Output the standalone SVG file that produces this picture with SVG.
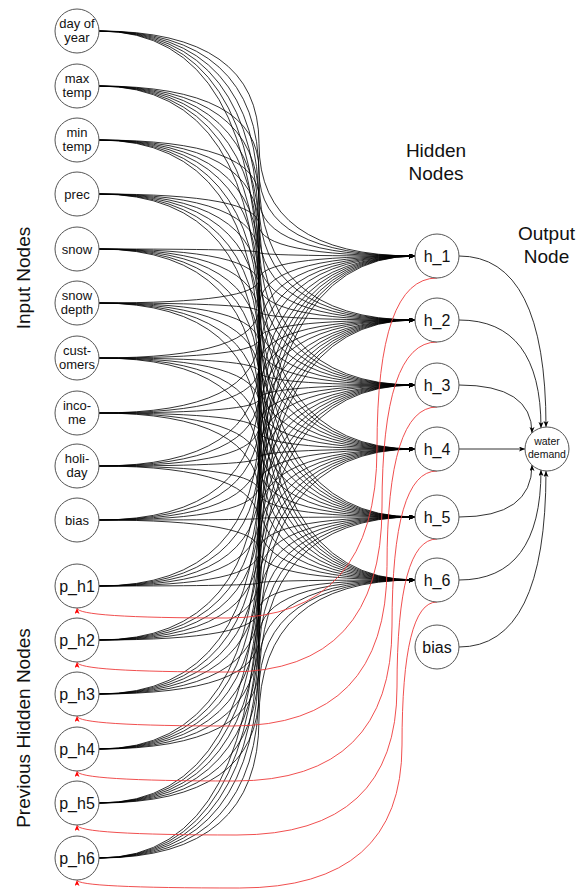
<svg xmlns="http://www.w3.org/2000/svg" width="576" height="889" viewBox="0 0 576 889">
<style>
.n{fill:#fff;stroke:#555;stroke-width:1}
.t{font-family:"Liberation Sans",Arial,sans-serif;fill:#111;text-anchor:middle}
.s{font-size:13px}
.m{font-size:16px}
.w{font-size:10.5px}
.L{font-family:"Liberation Sans",Arial,sans-serif;fill:#111;font-size:19px;text-anchor:middle}
.k path{fill:none;stroke:#000;stroke-width:0.8;marker-end:url(#ab)}
.r path{fill:none;stroke:#ee3b3b;stroke-width:0.9;marker-end:url(#ar)}
.o path{fill:none;stroke:#333;stroke-width:1;marker-end:url(#ab)}
</style>
<defs>
<marker id="ab" markerWidth="7" markerHeight="6" refX="6" refY="2.5" orient="auto" markerUnits="userSpaceOnUse"><path d="M0,0 L6,2.5 L0,5 L1.5,2.5 z" fill="#000"/></marker>
<marker id="ar" markerWidth="7" markerHeight="6" refX="6" refY="2.5" orient="auto" markerUnits="userSpaceOnUse"><path d="M0,0 L6,2.5 L0,5 L1.5,2.5 z" fill="#f00"/></marker>
</defs>
<g id="connectors">
<g class="k">
<path d="M99 31Q259 31 259 143.5Q259 256 415 256"/>
<path d="M99 31Q259 31 259 175.5Q259 320 415 320"/>
<path d="M99 31Q259 31 259 208Q259 385 415 385"/>
<path d="M99 31Q259 31 259 240Q259 449 415 449"/>
<path d="M99 31Q259 31 259 274Q259 517 415 517"/>
<path d="M99 31Q259 31 259 305.5Q259 580 415 580"/>
<path d="M99 86Q259 86 259 171Q259 256 415 256"/>
<path d="M99 86Q259 86 259 203Q259 320 415 320"/>
<path d="M99 86Q259 86 259 235.5Q259 385 415 385"/>
<path d="M99 86Q259 86 259 267.5Q259 449 415 449"/>
<path d="M99 86Q259 86 259 301.5Q259 517 415 517"/>
<path d="M99 86Q259 86 259 333Q259 580 415 580"/>
<path d="M99 140Q259 140 259 198Q259 256 415 256"/>
<path d="M99 140Q259 140 259 230Q259 320 415 320"/>
<path d="M99 140Q259 140 259 262.5Q259 385 415 385"/>
<path d="M99 140Q259 140 259 294.5Q259 449 415 449"/>
<path d="M99 140Q259 140 259 328.5Q259 517 415 517"/>
<path d="M99 140Q259 140 259 360Q259 580 415 580"/>
<path d="M99 194Q259 194 259 225Q259 256 415 256"/>
<path d="M99 194Q259 194 259 257Q259 320 415 320"/>
<path d="M99 194Q259 194 259 289.5Q259 385 415 385"/>
<path d="M99 194Q259 194 259 321.5Q259 449 415 449"/>
<path d="M99 194Q259 194 259 355.5Q259 517 415 517"/>
<path d="M99 194Q259 194 259 387Q259 580 415 580"/>
<path d="M99 249Q259 249 259 252.5Q259 256 415 256"/>
<path d="M99 249Q259 249 259 284.5Q259 320 415 320"/>
<path d="M99 249Q259 249 259 317Q259 385 415 385"/>
<path d="M99 249Q259 249 259 349Q259 449 415 449"/>
<path d="M99 249Q259 249 259 383Q259 517 415 517"/>
<path d="M99 249Q259 249 259 414.5Q259 580 415 580"/>
<path d="M99 303Q259 303 259 279.5Q259 256 415 256"/>
<path d="M99 303Q259 303 259 311.5Q259 320 415 320"/>
<path d="M99 303Q259 303 259 344Q259 385 415 385"/>
<path d="M99 303Q259 303 259 376Q259 449 415 449"/>
<path d="M99 303Q259 303 259 410Q259 517 415 517"/>
<path d="M99 303Q259 303 259 441.5Q259 580 415 580"/>
<path d="M99 358Q259 358 259 307Q259 256 415 256"/>
<path d="M99 358Q259 358 259 339Q259 320 415 320"/>
<path d="M99 358Q259 358 259 371.5Q259 385 415 385"/>
<path d="M99 358Q259 358 259 403.5Q259 449 415 449"/>
<path d="M99 358Q259 358 259 437.5Q259 517 415 517"/>
<path d="M99 358Q259 358 259 469Q259 580 415 580"/>
<path d="M99 413Q259 413 259 334.5Q259 256 415 256"/>
<path d="M99 413Q259 413 259 366.5Q259 320 415 320"/>
<path d="M99 413Q259 413 259 399Q259 385 415 385"/>
<path d="M99 413Q259 413 259 431Q259 449 415 449"/>
<path d="M99 413Q259 413 259 465Q259 517 415 517"/>
<path d="M99 413Q259 413 259 496.5Q259 580 415 580"/>
<path d="M99 466Q259 466 259 361Q259 256 415 256"/>
<path d="M99 466Q259 466 259 393Q259 320 415 320"/>
<path d="M99 466Q259 466 259 425.5Q259 385 415 385"/>
<path d="M99 466Q259 466 259 457.5Q259 449 415 449"/>
<path d="M99 466Q259 466 259 491.5Q259 517 415 517"/>
<path d="M99 466Q259 466 259 523Q259 580 415 580"/>
<path d="M99 520Q259 520 259 388Q259 256 415 256"/>
<path d="M99 520Q259 520 259 420Q259 320 415 320"/>
<path d="M99 520Q259 520 259 452.5Q259 385 415 385"/>
<path d="M99 520Q259 520 259 484.5Q259 449 415 449"/>
<path d="M99 520Q259 520 259 518.5Q259 517 415 517"/>
<path d="M99 520Q259 520 259 550Q259 580 415 580"/>
<path d="M99 586Q259 586 259 421Q259 256 415 256"/>
<path d="M99 586Q259 586 259 453Q259 320 415 320"/>
<path d="M99 586Q259 586 259 485.5Q259 385 415 385"/>
<path d="M99 586Q259 586 259 517.5Q259 449 415 449"/>
<path d="M99 586Q259 586 259 551.5Q259 517 415 517"/>
<path d="M99 586Q259 586 259 583Q259 580 415 580"/>
<path d="M99 640Q259 640 259 448Q259 256 415 256"/>
<path d="M99 640Q259 640 259 480Q259 320 415 320"/>
<path d="M99 640Q259 640 259 512.5Q259 385 415 385"/>
<path d="M99 640Q259 640 259 544.5Q259 449 415 449"/>
<path d="M99 640Q259 640 259 578.5Q259 517 415 517"/>
<path d="M99 640Q259 640 259 610Q259 580 415 580"/>
<path d="M99 694Q259 694 259 475Q259 256 415 256"/>
<path d="M99 694Q259 694 259 507Q259 320 415 320"/>
<path d="M99 694Q259 694 259 539.5Q259 385 415 385"/>
<path d="M99 694Q259 694 259 571.5Q259 449 415 449"/>
<path d="M99 694Q259 694 259 605.5Q259 517 415 517"/>
<path d="M99 694Q259 694 259 637Q259 580 415 580"/>
<path d="M99 749Q259 749 259 502.5Q259 256 415 256"/>
<path d="M99 749Q259 749 259 534.5Q259 320 415 320"/>
<path d="M99 749Q259 749 259 567Q259 385 415 385"/>
<path d="M99 749Q259 749 259 599Q259 449 415 449"/>
<path d="M99 749Q259 749 259 633Q259 517 415 517"/>
<path d="M99 749Q259 749 259 664.5Q259 580 415 580"/>
<path d="M99 803Q259 803 259 529.5Q259 256 415 256"/>
<path d="M99 803Q259 803 259 561.5Q259 320 415 320"/>
<path d="M99 803Q259 803 259 594Q259 385 415 385"/>
<path d="M99 803Q259 803 259 626Q259 449 415 449"/>
<path d="M99 803Q259 803 259 660Q259 517 415 517"/>
<path d="M99 803Q259 803 259 691.5Q259 580 415 580"/>
<path d="M99 858Q259 858 259 557Q259 256 415 256"/>
<path d="M99 858Q259 858 259 589Q259 320 415 320"/>
<path d="M99 858Q259 858 259 621.5Q259 385 415 385"/>
<path d="M99 858Q259 858 259 653.5Q259 449 415 449"/>
<path d="M99 858Q259 858 259 687.5Q259 517 415 517"/>
<path d="M99 858Q259 858 259 719Q259 580 415 580"/>
</g>
<g class="r">
<path d="M437 278Q377 278 377 448Q377 618 227 618Q77 618 77 608"/>
<path d="M437 342Q382 342 382 507Q382 672 229.5 672Q77 672 77 662"/>
<path d="M437 407Q387 407 387 566.5Q387 726 232 726Q77 726 77 716"/>
<path d="M437 471Q392 471 392 626Q392 781 234.5 781Q77 781 77 771"/>
<path d="M437 539Q397 539 397 687Q397 835 237 835Q77 835 77 825"/>
<path d="M437 602Q402 602 402 745Q402 888 239.5 888Q77 888 77 880"/>
</g>
<g class="o">
<path d="M459 256Q546 256 546 427"/>
<path d="M459 320Q541 320 541 428"/>
<path d="M459 385Q532 385 532 433"/>
<path d="M459 449L525 449"/>
<path d="M459 517Q532 517 532 465"/>
<path d="M459 580Q541 580 541 470"/>
<path d="M459 647Q546 647 546 471"/>
</g>
</g>
<g id="in-day"><circle class="n" cx="77" cy="31" r="22"/><text class="t s" x="77" y="27.5">day of</text><text class="t s" x="77" y="42">year</text></g>
<g id="in-max"><circle class="n" cx="77" cy="86" r="22"/><text class="t s" x="77" y="82.5">max</text><text class="t s" x="77" y="97">temp</text></g>
<g id="in-min"><circle class="n" cx="77" cy="140" r="22"/><text class="t s" x="77" y="136.5">min</text><text class="t s" x="77" y="151">temp</text></g>
<g id="in-prec"><circle class="n" cx="77" cy="194" r="22"/><text class="t s" x="77" y="198.5">prec</text></g>
<g id="in-snow"><circle class="n" cx="77" cy="249" r="22"/><text class="t s" x="77" y="253.5">snow</text></g>
<g id="in-snowdepth"><circle class="n" cx="77" cy="303" r="22"/><text class="t s" x="77" y="299.5">snow</text><text class="t s" x="77" y="314">depth</text></g>
<g id="in-customers"><circle class="n" cx="77" cy="358" r="22"/><text class="t s" x="77" y="354.5">cust-</text><text class="t s" x="77" y="369">omers</text></g>
<g id="in-income"><circle class="n" cx="77" cy="413" r="22"/><text class="t s" x="77" y="409.5">inco-</text><text class="t s" x="77" y="424">me</text></g>
<g id="in-holiday"><circle class="n" cx="77" cy="466" r="22"/><text class="t s" x="77" y="462.5">holi-</text><text class="t s" x="77" y="477">day</text></g>
<g id="in-bias"><circle class="n" cx="77" cy="520" r="22"/><text class="t s" x="77" y="524.5">bias</text></g>
<g id="p_h1"><circle class="n" cx="77" cy="586" r="22"/><text class="t m" x="77" y="591.5">p_h1</text></g>
<g id="p_h2"><circle class="n" cx="77" cy="640" r="22"/><text class="t m" x="77" y="645.5">p_h2</text></g>
<g id="p_h3"><circle class="n" cx="77" cy="694" r="22"/><text class="t m" x="77" y="699.5">p_h3</text></g>
<g id="p_h4"><circle class="n" cx="77" cy="749" r="22"/><text class="t m" x="77" y="754.5">p_h4</text></g>
<g id="p_h5"><circle class="n" cx="77" cy="803" r="22"/><text class="t m" x="77" y="808.5">p_h5</text></g>
<g id="p_h6"><circle class="n" cx="77" cy="858" r="22"/><text class="t m" x="77" y="863.5">p_h6</text></g>
<g id="h_1"><circle class="n" cx="437" cy="256" r="22"/><text class="t m" x="437" y="261.5">h_1</text></g>
<g id="h_2"><circle class="n" cx="437" cy="320" r="22"/><text class="t m" x="437" y="325.5">h_2</text></g>
<g id="h_3"><circle class="n" cx="437" cy="385" r="22"/><text class="t m" x="437" y="390.5">h_3</text></g>
<g id="h_4"><circle class="n" cx="437" cy="449" r="22"/><text class="t m" x="437" y="454.5">h_4</text></g>
<g id="h_5"><circle class="n" cx="437" cy="517" r="22"/><text class="t m" x="437" y="522.5">h_5</text></g>
<g id="h_6"><circle class="n" cx="437" cy="580" r="22"/><text class="t m" x="437" y="585.5">h_6</text></g>
<g id="h_bias"><circle class="n" cx="437" cy="647" r="22"/><text class="t m" x="437" y="652.5">bias</text></g>
<g id="out"><circle class="n" cx="547" cy="449" r="22"/><text class="t w" x="547" y="445">water</text><text class="t w" x="547" y="458">demand</text></g>
<g id="labels">
<text class="L" x="436" y="157">Hidden</text>
<text class="L" x="436" y="180">Nodes</text>
<text class="L" x="546.5" y="240">Output</text>
<text class="L" x="546.5" y="263">Node</text>
<text class="L" transform="translate(30 278) rotate(-90)" x="0" y="0">Input Nodes</text>
<text class="L" transform="translate(30 728) rotate(-90)" x="0" y="0">Previous Hidden Nodes</text>
</g>
</svg>
